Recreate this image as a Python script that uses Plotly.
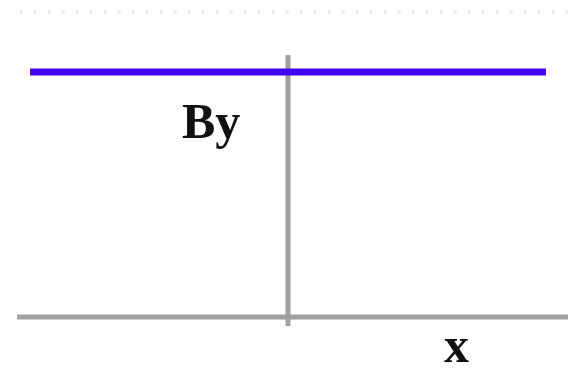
import plotly.graph_objects as go

# Field component By across the x-range (uniform)
x_vals = [-1.0, 1.0]
by_vals = [1.0, 1.0]

# Axis extents in data units
x_axis_span = [-1.05, 1.09]
y_axis_span = [-0.037, 1.069]
grid_y = 1.245
grid_span = [-1.04, 1.09]

fig = go.Figure()

# light dotted guide at the top
fig.add_trace(go.Scatter(x=grid_span, y=[grid_y, grid_y], mode="lines",
                         line=dict(color="#e6e6e6", width=3, dash="3px,11px"),
                         hoverinfo="skip"))
# horizontal axis
fig.add_trace(go.Scatter(x=x_axis_span, y=[0, 0], mode="lines",
                         line=dict(color="#a0a0a0", width=5), hoverinfo="skip"))
# vertical axis
fig.add_trace(go.Scatter(x=[0, 0], y=y_axis_span, mode="lines",
                         line=dict(color="#a0a0a0", width=5), hoverinfo="skip"))
# By line
fig.add_trace(go.Scatter(x=x_vals, y=by_vals, mode="lines",
                         line=dict(color="#4400ff", width=7), hoverinfo="skip"))

fig.add_annotation(x=-0.297, y=0.80, text="<b>By</b>", showarrow=False,
                   font=dict(family="Liberation Serif", size=50, color="#111111"),
                   xanchor="center", yanchor="middle")
fig.add_annotation(x=0.655, y=-0.2375, text="<b>x</b>", showarrow=False,
                   font=dict(family="Liberation Serif", size=50, color="#111111"),
                   xanchor="center", yanchor="bottom")

fig.update_layout(
    width=568, height=376,
    margin=dict(l=0, r=0, t=0, b=0),
    paper_bgcolor="white", plot_bgcolor="white",
    showlegend=False,
    xaxis=dict(range=[-1.1163, 1.0853], visible=False, fixedrange=True),
    yaxis=dict(range=[-0.2408, 1.2939], visible=False, fixedrange=True),
)

fig.write_html("out.html")
